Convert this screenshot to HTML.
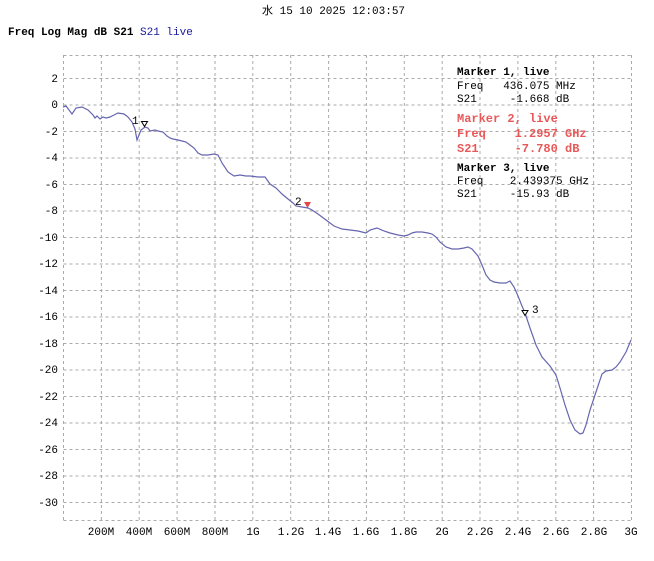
<!DOCTYPE html>
<html><head><meta charset="utf-8"><style>
body{margin:0;background:#fff;width:654px;height:556px;overflow:hidden}
svg text{font-family:"Liberation Mono","DejaVu Sans Mono","Noto Sans CJK JP",monospace;font-size:11px;white-space:pre}
</style></head><body>
<svg width="654" height="556" xmlns="http://www.w3.org/2000/svg" xml:space="preserve">
<text x="262" y="14" fill="#000">水 15 10 2025 12:03:57</text>
<text x="8" y="35" fill="#000" font-weight="bold">Freq Log Mag dB S21</text>
<text x="140" y="35" fill="#1a1aa0">S21 live</text>
<g stroke="#aaa" stroke-width="1" stroke-dasharray="3,3" fill="none">
<path d="M63.5 55.5H631.5M63.5 520.5H631.5"/>
<path d="M63.5 78.5H631.5M63.5 105H631.5M63.5 131.5H631.5M63.5 158H631.5M63.5 184.5H631.5M63.5 211H631.5M63.5 237.5H631.5M63.5 264H631.5M63.5 290.5H631.5M63.5 317H631.5M63.5 343.5H631.5M63.5 370H631.5M63.5 396.5H631.5M63.5 423H631.5M63.5 449.5H631.5M63.5 476H631.5M63.5 502.5H631.5"/>
<path d="M63.5 55V520M101.4 55V520M139.2 55V520M177.1 55V520M215 55V520M252.8 55V520M290.7 55V520M328.6 55V520M366.4 55V520M404.3 55V520M442.2 55V520M480 55V520M517.9 55V520M555.8 55V520M593.6 55V520M631.5 55V520"/>
</g>
<g fill="#000" text-anchor="end">
<text x="58" y="82">2</text><text x="58" y="108">0</text><text x="58" y="135">-2</text><text x="58" y="161">-4</text><text x="58" y="188">-6</text><text x="58" y="214">-8</text><text x="58" y="241">-10</text><text x="58" y="267">-12</text><text x="58" y="294">-14</text><text x="58" y="320">-16</text><text x="58" y="347">-18</text><text x="58" y="373">-20</text><text x="58" y="400">-22</text><text x="58" y="426">-24</text><text x="58" y="453">-26</text><text x="58" y="479">-28</text><text x="58" y="506">-30</text>
</g>
<g fill="#000" text-anchor="middle">
<text x="101" y="535">200M</text><text x="139" y="535">400M</text><text x="177" y="535">600M</text><text x="215" y="535">800M</text><text x="253" y="535">1G</text><text x="291" y="535">1.2G</text><text x="328" y="535">1.4G</text><text x="366" y="535">1.6G</text><text x="404" y="535">1.8G</text><text x="442" y="535">2G</text><text x="480" y="535">2.2G</text><text x="518" y="535">2.4G</text><text x="556" y="535">2.6G</text><text x="594" y="535">2.8G</text><text x="631" y="535">3G</text>
</g>
<polyline fill="none" stroke="#6666b0" stroke-width="1.2" points="63,107 66,106 72,114 76,108 82,107 88,110 93,115 95,118 97,116 100,119 103,117 106,118 110,117 114,115 118,113 124,114 128,117 132,122 135,129 137,140 139,135 141,130 145,127 148,128 150,131 155,130 158,131 163,132 167,136 170,138 173,139 178,140 182,141 186,142 190,145 194,148 198,153 202,155 208,155 214,154 218,155 222,163 228,172 234,176 240,175 246,176 250,176 258,177 265,177 270,184 276,188 282,194 288,199 293,203 296,206 302,207 308,208 312,210 318,214 326,220 334,226 342,229 350,230 358,231 362,232 366,233 370,230 377,228 384,231 390,233 398,235 404,236 408,235 412,233 416,232 422,232 428,233 432,234 436,237 440,242 446,247 452,249 458,249 464,248 468,247 472,249 478,256 482,265 486,275 490,280 494,282 500,283 506,283 510,281 514,287 518,296 522,306 525,313 530,328 536,345 542,357 550,366 556,375 560,388 565,405 570,420 575,430 580,434 583,433 586,425 590,410 594,398 598,386 602,374 606,371 612,370 616,367 620,362 626,352 631,340"/>
<path d="M141.5 121.5h6l-3 5z" fill="#fff" stroke="#000"/>
<text x="132" y="124" fill="#000">1</text>
<path d="M304 202h7l-3.5 6z" fill="#e04848"/>
<text x="295" y="205" fill="#000">2</text>
<path d="M522 310.5h6l-3 5z" fill="#fff" stroke="#000"/>
<text x="532" y="313" fill="#000">3</text>
<g fill="#000">
<text x="457" y="75" font-weight="bold">Marker 1, live</text>
<text x="457" y="89">Freq   436.075 MHz</text>
<text x="457" y="102">S21     -1.668 dB</text>
<text x="457" y="171" font-weight="bold">Marker 3, live</text>
<text x="457" y="184">Freq    2.439375 GHz</text>
<text x="457" y="197">S21     -15.93 dB</text>
</g>
<g fill="#e85858" font-weight="bold">
<text x="457" y="122" style="font-size:12px">Marker 2, live</text>
<text x="457" y="137" style="font-size:12px">Freq    1.2957 GHz</text>
<text x="457" y="152" style="font-size:12px">S21     -7.780 dB</text>
</g>
</svg>
</body></html>
